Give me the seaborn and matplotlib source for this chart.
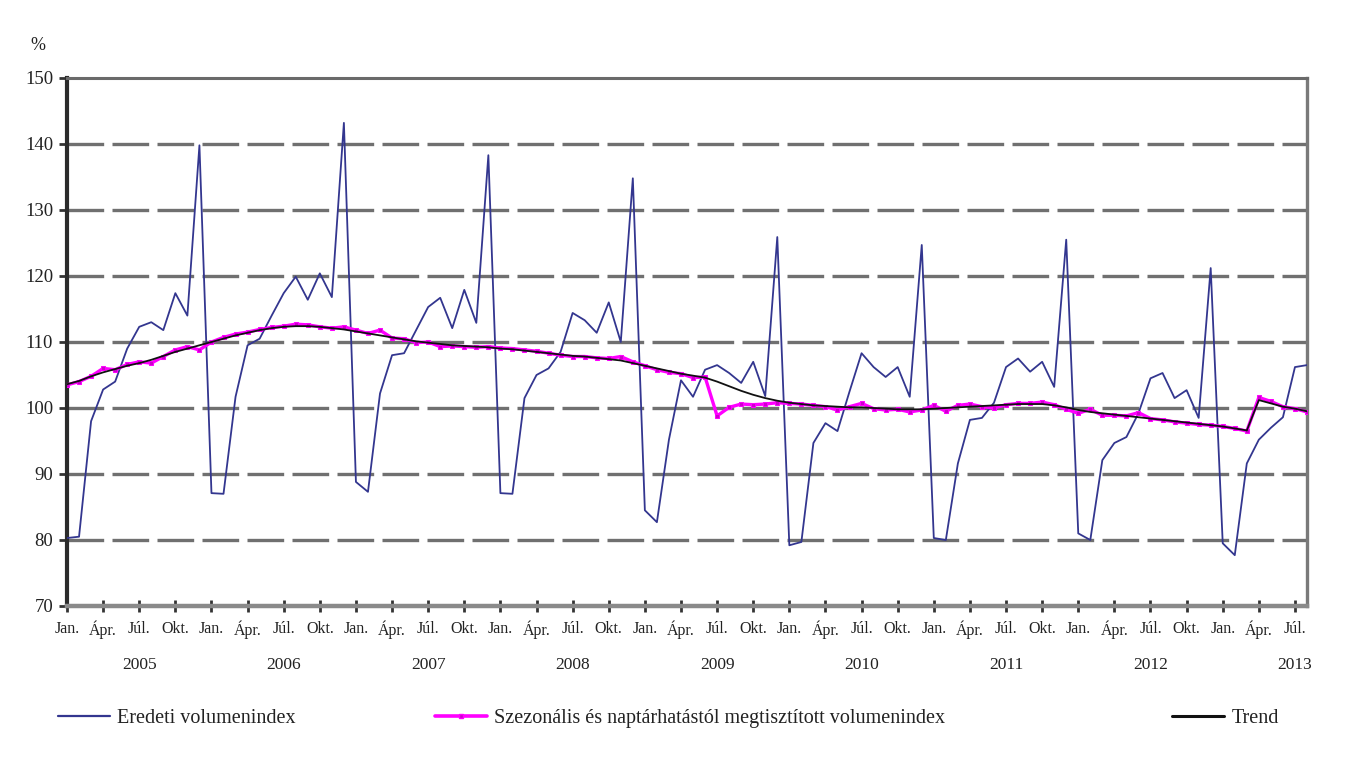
import numpy as np
import pandas as pd
import matplotlib
matplotlib.use("Agg")
import matplotlib.pyplot as plt
import matplotlib.transforms as mtransforms
from matplotlib.lines import Line2D
import seaborn as sns

# ---------------- data (monthly, Jan 2005 - Aug 2013) ----------------
years = ["2005", "2006", "2007", "2008", "2009", "2010", "2011", "2012", "2013"]
quarter_labels = ["Jan.", "Ápr.", "Júl.", "Okt."]

original = [
    80.3, 80.5, 98.0, 102.8, 104.0, 109.0, 112.3, 113.0, 111.8, 117.4, 114.0, 139.8,   # 2005
    87.1, 87.0, 101.7, 109.5, 110.5, 114.0, 117.4, 119.9, 116.4, 120.4, 116.8, 143.2,  # 2006
    88.8, 87.3, 102.2, 108.0, 108.3, 111.8, 115.3, 116.7, 112.1, 117.9, 112.9, 138.3,  # 2007
    87.1, 87.0, 101.5, 105.0, 106.0, 108.5, 114.4, 113.3, 111.4, 116.0, 110.0, 134.8,  # 2008
    84.5, 82.7, 95.2, 104.2, 101.7, 105.8, 106.5, 105.3, 103.8, 107.0, 101.8, 125.9,   # 2009
    79.2, 79.7, 94.7, 97.7, 96.5, 102.5, 108.3, 106.2, 104.7, 106.2, 101.7, 124.7,     # 2010
    80.3, 80.0, 91.6, 98.2, 98.5, 100.8, 106.2, 107.5, 105.5, 107.0, 103.2, 125.5,     # 2011
    81.0, 80.0, 92.1, 94.7, 95.6, 99.2, 104.5, 105.3, 101.5, 102.7, 98.5, 121.2,       # 2012
    79.5, 77.7, 91.6, 95.2, 97.0, 98.6, 106.2, 106.5,                                  # 2013
]

seasonally_adjusted = [
    103.5, 104.0, 104.8, 106.0, 105.8, 106.6, 107.0, 106.8, 107.8, 108.8, 109.3, 108.8,
    110.0, 110.7, 111.2, 111.5, 111.9, 112.2, 112.4, 112.7, 112.6, 112.3, 112.1, 112.3,
    111.8, 111.3, 111.8, 110.6, 110.5, 109.9, 110.0, 109.3, 109.4, 109.3, 109.2, 109.3,
    109.1, 109.0, 108.8, 108.6, 108.3, 108.0, 107.8, 107.8, 107.6, 107.5, 107.8, 107.0,
    106.4, 105.8, 105.4, 105.2, 104.6, 104.7, 98.8, 100.1, 100.6, 100.5, 100.6, 100.8,
    100.7, 100.6, 100.4, 100.2, 99.7, 100.2, 100.7, 99.9, 99.7, 99.8, 99.4, 99.7,
    100.4, 99.5, 100.4, 100.6, 100.2, 100.0, 100.5, 100.7, 100.7, 100.9, 100.5, 99.8,
    99.2, 99.8, 98.9, 98.9, 98.8, 99.3, 98.4, 98.2, 97.9, 97.7, 97.5, 97.4,
    97.2, 96.9, 96.5, 101.6, 101.0, 100.2, 99.9, 99.4,
]

trend = [
    103.6, 104.1, 104.8, 105.4, 105.9, 106.4, 106.8, 107.3, 107.9, 108.5, 109.0, 109.5,
    110.0, 110.5, 111.0, 111.4, 111.8, 112.1, 112.3, 112.4, 112.4, 112.3, 112.1, 111.9,
    111.6, 111.3, 111.0, 110.7, 110.4, 110.1, 109.9, 109.7, 109.5, 109.4, 109.3, 109.2,
    109.0, 108.9, 108.7, 108.5, 108.3, 108.1, 107.9, 107.8, 107.6, 107.4, 107.2, 106.8,
    106.4, 106.0, 105.6, 105.2, 104.9, 104.6, 104.0, 103.3, 102.6, 102.0, 101.5, 101.1,
    100.8, 100.6, 100.4, 100.3, 100.2, 100.1, 100.1, 100.0, 99.9, 99.8, 99.8, 99.8,
    99.9, 100.0, 100.1, 100.2, 100.3, 100.4, 100.5, 100.6, 100.6, 100.6, 100.4, 100.1,
    99.7, 99.4, 99.2, 99.0, 98.8, 98.6, 98.4, 98.2, 98.0, 97.8, 97.6, 97.4,
    97.2, 96.9, 96.6, 101.2, 100.7, 100.2, 99.9, 99.5,
]

legend_labels = [
    "Eredeti volumenindex",
    "Szezonális és naptárhatástól megtisztított volumenindex",
    "Trend",
]

month_idx = np.arange(len(original))
df = pd.DataFrame({
    "month": month_idx,
    "original": original,
    "sa": seasonally_adjusted,
    "trend": trend,
})

# ---------------- styling ----------------
sns.set_theme(style="white")
plt.rcParams["font.family"] = ["Liberation Serif", "DejaVu Serif"]

W, H = 1347, 758
fig = plt.figure(figsize=(W / 100, H / 100), dpi=100)
ax = fig.add_axes([67 / W, 1 - 606 / H, (1307 - 67) / W, (606 - 78) / H])

navy = "#33368F"
magenta = "#FF00FF"

# grid lines (dashed)
for v in range(80, 150, 10):
    ax.axhline(v, color="#707070", lw=2.4, ls=(0, (11, 2.5)), zorder=1)

sns.lineplot(data=df, x="month", y="original", ax=ax, color=navy, lw=1.3, zorder=3)
sns.lineplot(data=df, x="month", y="sa", ax=ax, color=magenta, lw=2.4, zorder=4,
             marker="s", markersize=3, markeredgecolor=magenta, markerfacecolor="#cc00cc")
sns.lineplot(data=df, x="month", y="trend", ax=ax, color="#111111", lw=1.3, zorder=5)

ax.set_xlim(0, len(original) - 1)
ax.set_ylim(70, 150)
ax.set_yticks(range(70, 151, 10))
ax.set_xlabel("")
ax.set_ylabel("")

qt = np.arange(0, len(original), 3)
ax.set_xticks(qt)
ax.set_xticklabels([quarter_labels[(i // 3) % 4] for i in qt])

ax.tick_params(axis="x", direction="inout", length=9, width=2, color="#333333",
               labelsize=11.5, pad=6, bottom=True)
ax.tick_params(axis="y", direction="out", length=6, width=2, color="#333333",
               labelsize=13.5, pad=4, left=True)
for lab in ax.get_xticklabels() + ax.get_yticklabels():
    lab.set_color("#222222")

for side, (c, w) in {"left": ("#2b2b2b", 3.0), "bottom": ("#8a8a8a", 3.2),
                     "top": ("#6a6a6a", 2.2), "right": ("#7a7a7a", 2.4)}.items():
    ax.spines[side].set_visible(True)
    ax.spines[side].set_color(c)
    ax.spines[side].set_linewidth(w)

# year labels (second category level)
trans = mtransforms.blended_transform_factory(ax.transData, fig.transFigure)
for k, yr in enumerate(years):
    ax.text(12 * k + 6, 1 - 665 / H, yr, transform=trans, ha="center", va="center",
            fontsize=12.5, color="#222222")

fig.text(38 / W, 1 - 45 / H, "%", ha="center", va="center", fontsize=13, color="#222222")

# legend (three separate entries, placed like the original)
handles = [
    Line2D([], [], color=navy, lw=1.6),
    Line2D([], [], color=magenta, lw=2.6, marker="s", markersize=3, markerfacecolor="#cc00cc"),
    Line2D([], [], color="#111111", lw=2.2),
]
x_starts = [58, 435, 1172]
for h, lab, xs in zip(handles, legend_labels, x_starts):
    fig.legend(handles=[h], labels=[lab], loc="center left",
               bbox_to_anchor=(xs / W, 1 - 718 / H), frameon=False,
               handlelength=2.6, handletextpad=0.35, borderpad=0, borderaxespad=0,
               fontsize=14.5, labelcolor="#222222")

fig.savefig("out.png", dpi=100)
